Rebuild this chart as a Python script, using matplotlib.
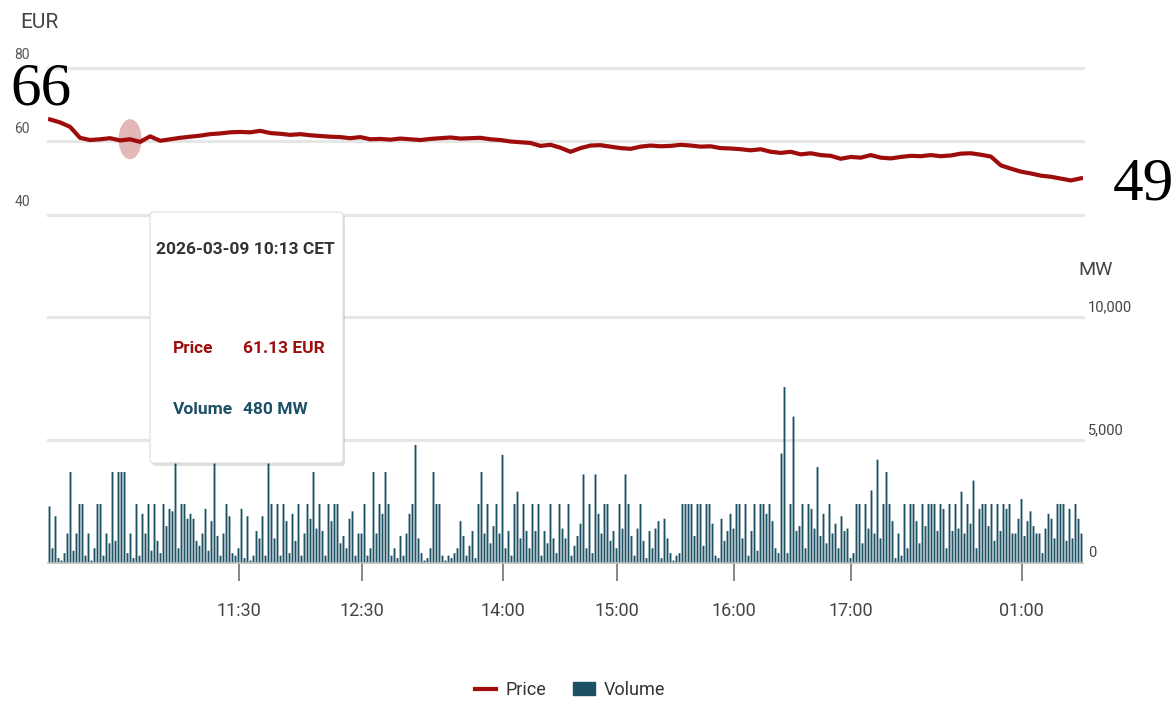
import numpy as np
import matplotlib.pyplot as plt
from matplotlib.lines import Line2D
from matplotlib.patches import Patch, Ellipse, FancyBboxPatch

plt.rcParams['font.family'] = ['Roboto', 'DejaVu Sans']

# price curve (EUR), sampled evenly across the session
price = [66.0, 65.2, 64.0, 61.0, 60.4, 60.6, 60.9, 60.3, 60.6, 59.9,
         61.4, 60.2, 60.6, 61.0, 61.3, 61.6, 62.0, 62.2, 62.5, 62.6,
         62.5, 62.9, 62.3, 62.1, 61.8, 62.0, 61.7, 61.5, 61.3, 61.2,
         60.9, 61.2, 60.6, 60.7, 60.5, 60.8, 60.6, 60.4, 60.7, 60.9,
         61.1, 60.8, 60.9, 61.0, 60.6, 60.4, 60.0, 59.8, 59.6, 58.8,
         59.1, 58.3, 57.2, 58.2, 58.9, 59.0, 58.6, 58.2, 58.0, 58.6,
         58.9, 58.7, 58.8, 59.1, 58.9, 58.6, 58.7, 58.2, 58.1, 57.9,
         57.6, 57.9, 57.2, 56.9, 57.2, 56.5, 56.8, 56.3, 56.1, 55.3,
         55.8, 55.6, 56.3, 55.6, 55.4, 55.8, 56.1, 56.0, 56.3, 56.0,
         56.2, 56.7, 56.8, 56.4, 55.9, 53.5, 52.6, 51.8, 51.3, 50.7,
         50.4, 49.9, 49.4, 50.0]

# traded volume per trade slot (MW)
volume = [2300, 600, 1900, 200, 100, 400, 1200, 3700, 500, 1200, 2400, 2400, 300, 1200, 100,
          600, 2400, 2400, 300, 1200, 800, 3700, 900, 3700, 3700, 3700, 400, 1200, 200, 2400,
          300, 2000, 1200, 2400, 500, 2400, 900, 400, 2400, 1500, 2200, 2100, 4400, 600, 2400,
          2400, 1800, 2000, 1800, 900, 700, 1200, 2200, 500, 1700, 4500, 1100, 300, 1200, 2400,
          1900, 400, 300, 600, 2200, 200, 1900, 100, 300, 1300, 1000, 1900, 300, 4600, 2400,
          1000, 2400, 300, 2400, 1700, 400, 2000, 900, 2400, 300, 1200, 2400, 1800, 3700, 1400,
          2400, 1300, 300, 2400, 1700, 2400, 2400, 800, 1100, 600, 1800, 2100, 300, 1200, 1200,
          2400, 300, 600, 3700, 1200, 2400, 2000, 3700, 2400, 300, 600, 200, 1100, 300, 1200,
          2000, 2400, 4800, 1000, 400, 100, 200, 600, 3700, 2400, 2400, 300, 100, 300, 200,
          400, 600, 1700, 1100, 300, 700, 1300, 200, 2400, 3700, 1200, 2400, 800, 1500, 2400,
          1200, 4400, 600, 1300, 300, 2400, 2900, 1000, 2400, 1300, 600, 2400, 1300, 2400, 300,
          1300, 800, 2400, 1000, 400, 2400, 1400, 1000, 2400, 300, 700, 1100, 1600, 3600, 600,
          2400, 400, 3600, 2000, 1200, 2400, 2400, 900, 1300, 600, 2400, 1400, 3600, 2400, 1100,
          300, 1400, 2400, 900, 200, 1300, 600, 1400, 1700, 200, 1800, 1000, 400, 100, 300,
          400, 2400, 2400, 2400, 2400, 1100, 2400, 2400, 700, 2400, 2400, 1600, 300, 200, 1800,
          900, 1300, 2000, 1400, 2400, 2400, 1000, 2400, 300, 1300, 2400, 500, 2400, 2400, 2000,
          2400, 1700, 600, 400, 4450, 7150, 400, 2400, 5950, 1300, 1500, 2400, 600, 2400, 2200,
          1400, 3900, 1100, 2000, 800, 2400, 1200, 1600, 600, 1900, 1300, 1400, 200, 400, 2400,
          2400, 800, 2400, 1400, 2950, 1200, 4200, 1000, 2400, 3700, 2400, 1700, 200, 1200, 300,
          2400, 600, 2400, 2400, 1700, 800, 2400, 1500, 2400, 2400, 2400, 1300, 2400, 2200, 600,
          2400, 1300, 2400, 1400, 2900, 1200, 2400, 1600, 3350, 600, 2200, 2400, 2400, 1500, 2400,
          900, 2400, 1300, 2400, 2200, 2400, 1200, 1200, 1800, 2600, 1100, 1700, 2100, 1500, 1200,
          1200, 400, 1400, 2000, 1800, 1000, 2400, 2400, 2400, 900, 2200, 1000, 2400, 1800, 1200]

tick_slots = [63, 104, 151, 189, 228, 267, 324]
tick_labels = ['11:30', '12:30', '14:00', '15:00', '16:00', '17:00', '01:00']

first_label = '66'
last_label = '49'

hover_slot = 8
hover_time = '2026-03-09 10:13 CET'
hover_price = 61.13
hover_volume = 480

RED = '#9e0c0c'
TEAL = '#1c5065'
GRID = '#e6e6e6'
TXT = '#555555'

W, H = 1176, 703
fig = plt.figure(figsize=(W / 100, H / 100), dpi=100)

# ---- price panel
ax_p = fig.add_axes([48 / W, 1 - 215 / H, 1035 / W, 147 / H])
ax_p.set_xlim(-0.2, len(price) - 0.8)
ax_p.set_ylim(40, 80)
for v in (40, 60, 80):
    ax_p.axhline(v, color=GRID, lw=2.2, zorder=0, clip_on=False)
    ax_p.text(-26 / 1035, v + 1.5, str(v), transform=ax_p.get_yaxis_transform(),
              ha='center', va='bottom', fontsize=10, color=TXT)
ax_p.plot(np.arange(len(price)), price, color=RED, lw=3, solid_joinstyle='round', zorder=3)
ax_p.add_patch(Ellipse((hover_slot, hover_price - 0.5), 2.3, 10.9, color='#d9a0a0',
                       alpha=0.75, lw=0, zorder=2))
ax_p.axis('off')

# ---- volume panel
ax_v = fig.add_axes([48 / W, 1 - 563 / H, 1035 / W, 246 / H])
ax_v.set_xlim(-0.5, len(volume) - 0.5)
ax_v.set_ylim(0, 10000)
for v in (5000, 10000):
    ax_v.axhline(v, color=GRID, lw=2.2, zorder=0, clip_on=False)
bars = ax_v.bar(np.arange(len(volume)), volume, width=0.62, color=TEAL, lw=0, zorder=2)
for b in bars:
    b.set_snap(False)
for s in ('top', 'left', 'right'):
    ax_v.spines[s].set_visible(False)
ax_v.spines['bottom'].set_color('#bdbdbd')
ax_v.spines['bottom'].set_linewidth(1.2)
ax_v.set_yticks([])
ax_v.set_xticks(tick_slots)
ax_v.set_xticklabels(tick_labels)
ax_v.tick_params(axis='x', length=13, width=1.1, color='#666666', pad=15,
                 labelsize=13, labelcolor='#444444')
for v, lab in ((0, '0'), (5000, '5,000'), (10000, '10,000')):
    ax_v.text(1 + 5 / 1035, v + 400, lab, transform=ax_v.get_yaxis_transform(),
              ha='left', va='center', fontsize=10.5, color='#444444')

fig.text(20 / W, 1 - 22 / H, 'EUR', fontsize=15, color='#444444', ha='left', va='center')
fig.text(1078 / W, 1 - 270 / H, 'MW', fontsize=14, color='#444444', ha='left', va='center')

# first / last price annotations
fig.text(10 / W, 1 - 90 / H, first_label, family='Liberation Serif', fontsize=44,
         ha='left', va='center', color='black')
fig.text(1113 / W, 1 - 185 / H, last_label, family='Liberation Serif', fontsize=44,
         ha='left', va='center', color='black')

# tooltip
bx, by, bw, bh = 150 / W, 1 - 463 / H, 193 / W, 251 / H
shadow = FancyBboxPatch((bx + 2 / W, by - 3 / H), bw, bh, boxstyle='round,pad=0,rounding_size=0.004',
                        transform=fig.transFigure, facecolor='#000000', alpha=0.12, lw=0, zorder=9)
box = FancyBboxPatch((bx, by), bw, bh, boxstyle='round,pad=0,rounding_size=0.004',
                     transform=fig.transFigure, facecolor='white', edgecolor='#dddddd',
                     lw=0.8, zorder=10)
fig.patches.extend([shadow, box])
fig.text(245 / W, 1 - 250 / H, hover_time, fontsize=12.5, color='#333333',
         ha='center', va='center', weight='bold', zorder=11)
fig.text(173 / W, 1 - 348 / H, 'Price', fontsize=12.5, color=RED, weight='bold',
         ha='left', va='center', zorder=11)
fig.text(243 / W, 1 - 348 / H, f'{hover_price:.2f} EUR', fontsize=12.5, color=RED, weight='bold',
         ha='left', va='center', zorder=11)
fig.text(173 / W, 1 - 410 / H, 'Volume', fontsize=12.5, color=TEAL, weight='bold',
         ha='left', va='center', zorder=11)
fig.text(243 / W, 1 - 410 / H, f'{hover_volume} MW', fontsize=12.5, color=TEAL, weight='bold',
         ha='left', va='center', zorder=11)

# legend
handles = [Line2D([0], [0], color=RED, lw=3), Patch(color=TEAL)]
fig.legend(handles, ['Price', 'Volume'], loc='center', bbox_to_anchor=(570 / W, 1 - 690 / H),
           ncol=2, frameon=False, fontsize=13, handlelength=1.2, columnspacing=1.5,
           handletextpad=0.5, labelcolor='#333333')

fig.savefig('out.png', dpi=100)
